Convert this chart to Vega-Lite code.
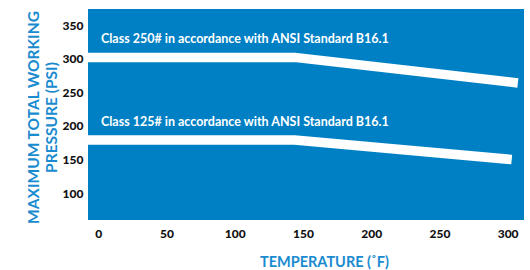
{
  "$schema": "https://vega.github.io/schema/vega-lite/v6.json",
  "autosize": "none",
  "width": 436,
  "height": 211,
  "padding": {"left": 88, "top": 9, "right": 6, "bottom": 50},
  "background": "white",
  "view": {"fill": "#0080c4", "stroke": null},
  "config": {"font": "Lato"},
  "datasets": {
    "lines": [
      {"temp": -7.5, "psi": 302, "cls": "250"},
      {"temp": 144, "psi": 302, "cls": "250"},
      {"temp": 307.5, "psi": 264, "cls": "250"},
      {"temp": -7.5, "psi": 179, "cls": "125"},
      {"temp": 144, "psi": 179, "cls": "125"},
      {"temp": 303, "psi": 150, "cls": "125"}
    ],
    "labels": [
      {"temp": 2, "psi": 329, "text": "Class 250# in accordance with ANSI Standard B16.1"},
      {"temp": 2, "psi": 206, "text": "Class 125# in accordance with ANSI Standard B16.1"}
    ]
  },
  "layer": [
    {
      "data": {"name": "lines"},
      "mark": {"type": "line", "color": "white", "strokeWidth": 9.5, "strokeCap": "butt", "strokeJoin": "miter", "clip": true},
      "encoding": {
        "x": {
          "field": "temp", "type": "quantitative",
          "scale": {"domain": [-7.5, 312], "nice": false, "zero": false},
          "axis": {
            "values": [0, 50, 100, 150, 200, 250, 300],
            "grid": false, "domain": false, "ticks": false, "tickSize": 0,
            "labelPadding": 8, "labelFont": "Lato", "labelFontWeight": 900, "labelFontSize": 12, "labelColor": "#111",
            "title": "TEMPERATURE (˚F)", "titleFont": "Lato", "titleFontWeight": "bold", "titleFontSize": 14.5, "titleColor": "#1a8bcf",
            "titleX": 236, "titleY": 42, "titleBaseline": "middle", "titleAnchor": null, "titleAlign": "center"
          }
        },
        "y": {
          "field": "psi", "type": "quantitative",
          "scale": {"domain": [60, 374], "nice": false, "zero": false},
          "axis": {
            "values": [100, 150, 200, 250, 300, 350],
            "grid": false, "domain": false, "ticks": false, "tickSize": 0,
            "labelPadding": 5, "labelFont": "Lato", "labelFontWeight": 900, "labelFontSize": 12, "labelColor": "#111",
            "title": ["MAXIMUM TOTAL WORKING", "PRESSURE (PSI)"], "titleFont": "Lato", "titleFontWeight": "bold", "titleFontSize": 15.5, "titleColor": "#1a8bcf",
            "titleLineHeight": 18, "titleX": -54.5, "titleY": 108, "titleBaseline": "middle", "titleAngle": -90, "titleAlign": "center"
          }
        },
        "detail": {"field": "cls"}
      }
    },
    {
      "data": {"name": "labels"},
      "mark": {"type": "text", "color": "white", "font": "Lato", "fontWeight": "bold", "fontSize": 12.5, "align": "left", "baseline": "middle"},
      "encoding": {
        "x": {"field": "temp", "type": "quantitative"},
        "y": {"field": "psi", "type": "quantitative"},
        "text": {"field": "text"}
      }
    }
  ]
}
